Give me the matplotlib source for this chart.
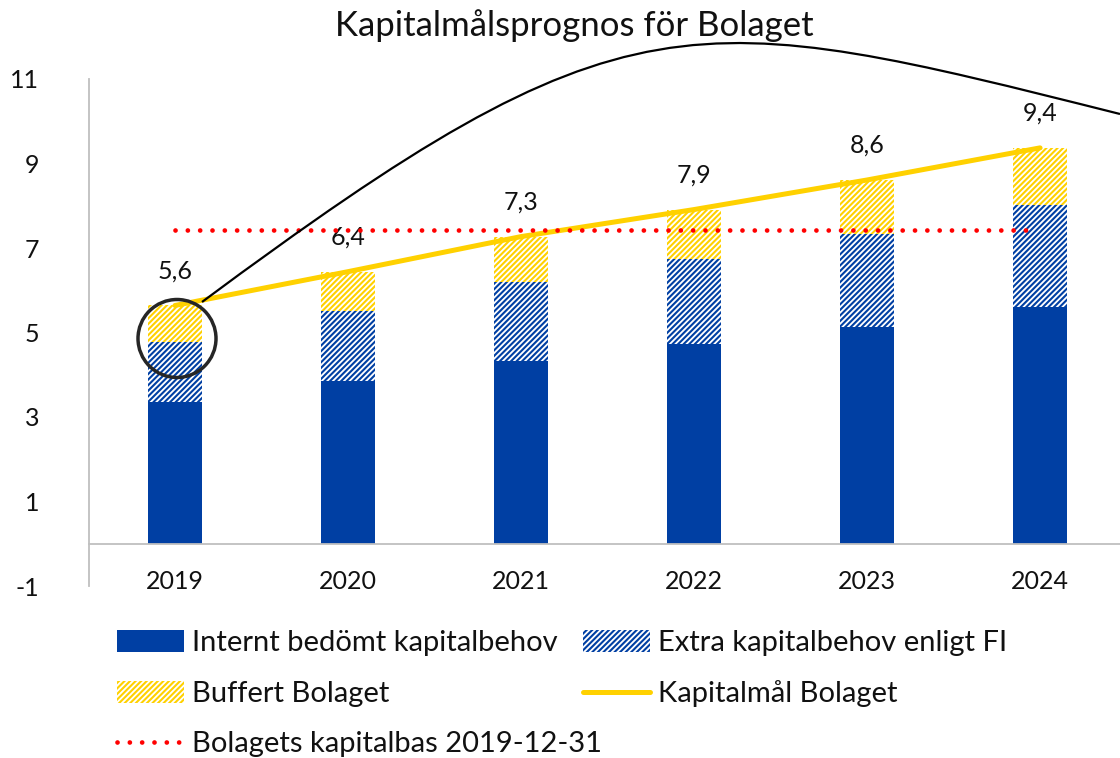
import matplotlib
matplotlib.use("Agg")
import matplotlib.pyplot as plt
from matplotlib.patches import Patch, Ellipse, PathPatch
from matplotlib.lines import Line2D
from matplotlib.path import Path
import numpy as np

plt.rcParams['font.family'] = ['Lato', 'DejaVu Sans']
plt.rcParams['hatch.linewidth'] = 1.5

# ---- data ----
years = ["2019", "2020", "2021", "2022", "2023", "2024"]
internt = [3.35, 3.85, 4.32, 4.72, 5.13, 5.61]
extra_fi = [1.43, 1.66, 1.87, 2.01, 2.20, 2.40]
kapitalmal = [5.64, 6.44, 7.27, 7.91, 8.61, 9.37]
kapitalbas = 7.42
y_ticks = [-1, 1, 3, 5, 7, 9, 11]

buffert = [k - a - b for k, a, b in zip(kapitalmal, internt, extra_fi)]

BLUE = "#003FA3"
YELLOW = "#FFD100"
RED = "#FF0000"
GRAY = "#BFBFBF"
FS = 18
LFS = 21
HATCH = "//////"

W, H = 1120, 758
fig = plt.figure(figsize=(W / 100, H / 100), dpi=100)
ax = fig.add_axes([89 / W, 1 - 586 / H, 1 - 89 / W, (586 - 79) / H])

x = np.arange(len(years))
bw = 0.312
bottom2 = np.array(internt)
bottom3 = bottom2 + np.array(extra_fi)

ax.bar(x, internt, width=bw, color=BLUE, linewidth=0, zorder=2)
ax.bar(x, extra_fi, width=bw, bottom=bottom2, facecolor="white",
       edgecolor=BLUE, hatch=HATCH, linewidth=0, zorder=2)
ax.bar(x, buffert, width=bw, bottom=bottom3, facecolor="white",
       edgecolor=YELLOW, hatch=HATCH, linewidth=0, zorder=2)

ax.plot(x, kapitalmal, color=YELLOW, lw=3.6, solid_capstyle="round", zorder=3)
ax.plot([x[0], x[-1] - 0.04], [kapitalbas, kapitalbas], color=RED, lw=3.4,
        linestyle=(0, (0.01, 2.6)), dash_capstyle="round", zorder=4)

for xi, v in zip(x, kapitalmal):
    ax.annotate(f"{v:.1f}".replace(".", ","), xy=(xi, v), xytext=(0, 25),
                textcoords="offset points", ha="center", va="center",
                fontsize=FS, color="#111111")

ax.set_xlim(-0.497, 5.462)
ax.set_ylim(-1, 11)
ax.set_yticks(y_ticks)
ax.set_yticklabels([str(t) for t in y_ticks])
ax.set_xticks(x)
ax.set_xticklabels(years)
ax.tick_params(axis="y", length=0, pad=36, labelsize=FS, colors="#111111")
ax.tick_params(axis="x", length=0, pad=19, labelsize=FS, colors="#111111")
for lab in ax.get_yticklabels():
    lab.set_ha("right")

ax.spines["top"].set_visible(False)
ax.spines["right"].set_visible(False)
ax.spines["bottom"].set_position(("data", 0))
ax.spines["bottom"].set_color(GRAY)
ax.spines["bottom"].set_linewidth(1.3)
ax.spines["left"].set_color(GRAY)
ax.spines["left"].set_linewidth(1.3)

fig.text(574 / W, 1 - 26 / H, "Kapitalmålsprognos för Bolaget",
         ha="center", va="center", fontsize=25, color="#111111")

# annotation: circle and arc
def fp(px, py):
    return (px / W, 1 - py / H)

circ = Ellipse(fp(177, 338.5), 78 / W, 78 / H, transform=fig.transFigure,
               fill=False, edgecolor="#262626", lw=2.5, zorder=10)
fig.patches.append(circ)
verts = [fp(202, 302), fp(625, -12), fp(690, 6), fp(1120, 114)]
arc = PathPatch(Path(verts, [Path.MOVETO, Path.CURVE4, Path.CURVE4, Path.CURVE4]),
                transform=fig.transFigure, fill=False, edgecolor="black",
                lw=1.6, zorder=10)
fig.patches.append(arc)

handles = [
    Patch(facecolor=BLUE, edgecolor=BLUE, linewidth=0),
    Patch(facecolor="white", edgecolor=YELLOW, hatch=HATCH, linewidth=0),
    Line2D([0], [0], color=RED, lw=3.4, linestyle=(0, (0.01, 2.6)),
           dash_capstyle="round"),
    Patch(facecolor="white", edgecolor=BLUE, hatch=HATCH, linewidth=0),
    Line2D([0], [0], color=YELLOW, lw=3.6, solid_capstyle="round"),
]
labels = ["Internt bedömt kapitalbehov", "Buffert Bolaget",
          "Bolagets kapitalbas 2019-12-31", "Extra kapitalbehov enligt FI",
          "Kapitalmål Bolaget"]
leg = fig.legend(handles, labels, ncol=2, loc="upper left",
                 bbox_to_anchor=(117 / W, 1 - 630 / H), frameon=False,
                 fontsize=LFS, handlelength=2.3, handleheight=0.8,
                 handletextpad=0.28, columnspacing=-0.67, labelspacing=0.83,
                 borderpad=0, borderaxespad=0)
for t in leg.get_texts():
    t.set_color("#111111")

fig.savefig("out.png", dpi=100)
